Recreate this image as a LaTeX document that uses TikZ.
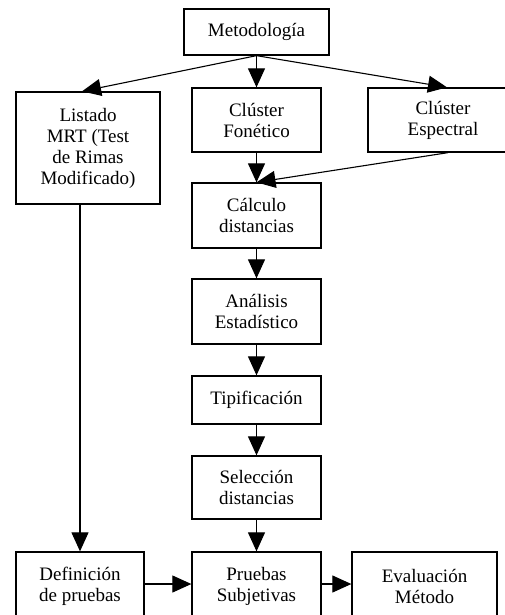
\documentclass[tikz,border=0pt]{standalone}
\usepackage{fontspec}
\setmainfont{Liberation Serif}
\usetikzlibrary{arrows.meta,calc}
\begin{document}
\begin{tikzpicture}[x=1pt,y=-1pt,
 box/.style={draw, line width=1.3pt, inner sep=0pt, align=center, font=\fontsize{19}{21}\selectfont},
 arr/.style={line width=1.1pt, -{Triangle[length=19pt,width=17pt]}}]
\useasboundingbox (0,0) rectangle (505,615);
\clip (0,0) rectangle (505,615);
\node[box, minimum width=145pt, minimum height=46pt] (met) at (256.5,32) {Metodología};
\node[box, minimum width=144pt, minimum height=112pt] (lis) at (88,148) {Listado\\MRT (Test\\de Rimas\\Modificado)};
\node[box, minimum width=129pt, minimum height=64pt] (fon) at (256.5,120) {Clúster\\Fonético};
\node[box, minimum width=150pt, minimum height=64pt] (esp) at (443,120) {Clúster\\Espectral};
\node[box, minimum width=129pt, minimum height=65pt] (cal) at (256.5,215.5) {Cálculo\\distancias};
\node[box, minimum width=129pt, minimum height=65pt] (ana) at (256.5,311.5) {Análisis\\Estadístico};
\node[box, minimum width=129pt, minimum height=48pt] (tip) at (256.5,400) {Tipificación};
\node[box, minimum width=129pt, minimum height=63pt] (sel) at (256.5,487.5) {Selección\\distancias};
\node[box, minimum width=128pt, minimum height=68pt] (def) at (80,586) {Definición\\de pruebas};
\node[box, minimum width=129pt, minimum height=68pt] (pru) at (256.5,586) {Pruebas\\Subjetivas};
\node[box, minimum width=145pt, minimum height=68pt] (eva) at (424.5,586) {Evaluación\\Método};
\draw[arr] (met.south) -- ($(lis.north)+(-6,0)$);
\draw[arr] (met.south) -- (fon.north);
\draw[arr] (met.south) -- ($(esp.north)+(4,0)$);
\draw[arr] (fon.south) -- (cal.north);
\draw[arr] ($(esp.south)+(5,0)$) -- (cal.north);
\draw[arr] (cal.south) -- (ana.north);
\draw[arr] (ana.south) -- (tip.north);
\draw[arr] (tip.south) -- (sel.north);
\draw[arr] (sel.south) -- (pru.north);
\draw[arr] (lis.south -| def.north) -- (def.north);
\draw[arr] ($(def.east)+(0,-2)$) -- ($(pru.west)+(0,-2)$);
\draw[arr] ($(pru.east)+(0,-2)$) -- ($(eva.west)+(0,-2)$);
\end{tikzpicture}
\end{document}
